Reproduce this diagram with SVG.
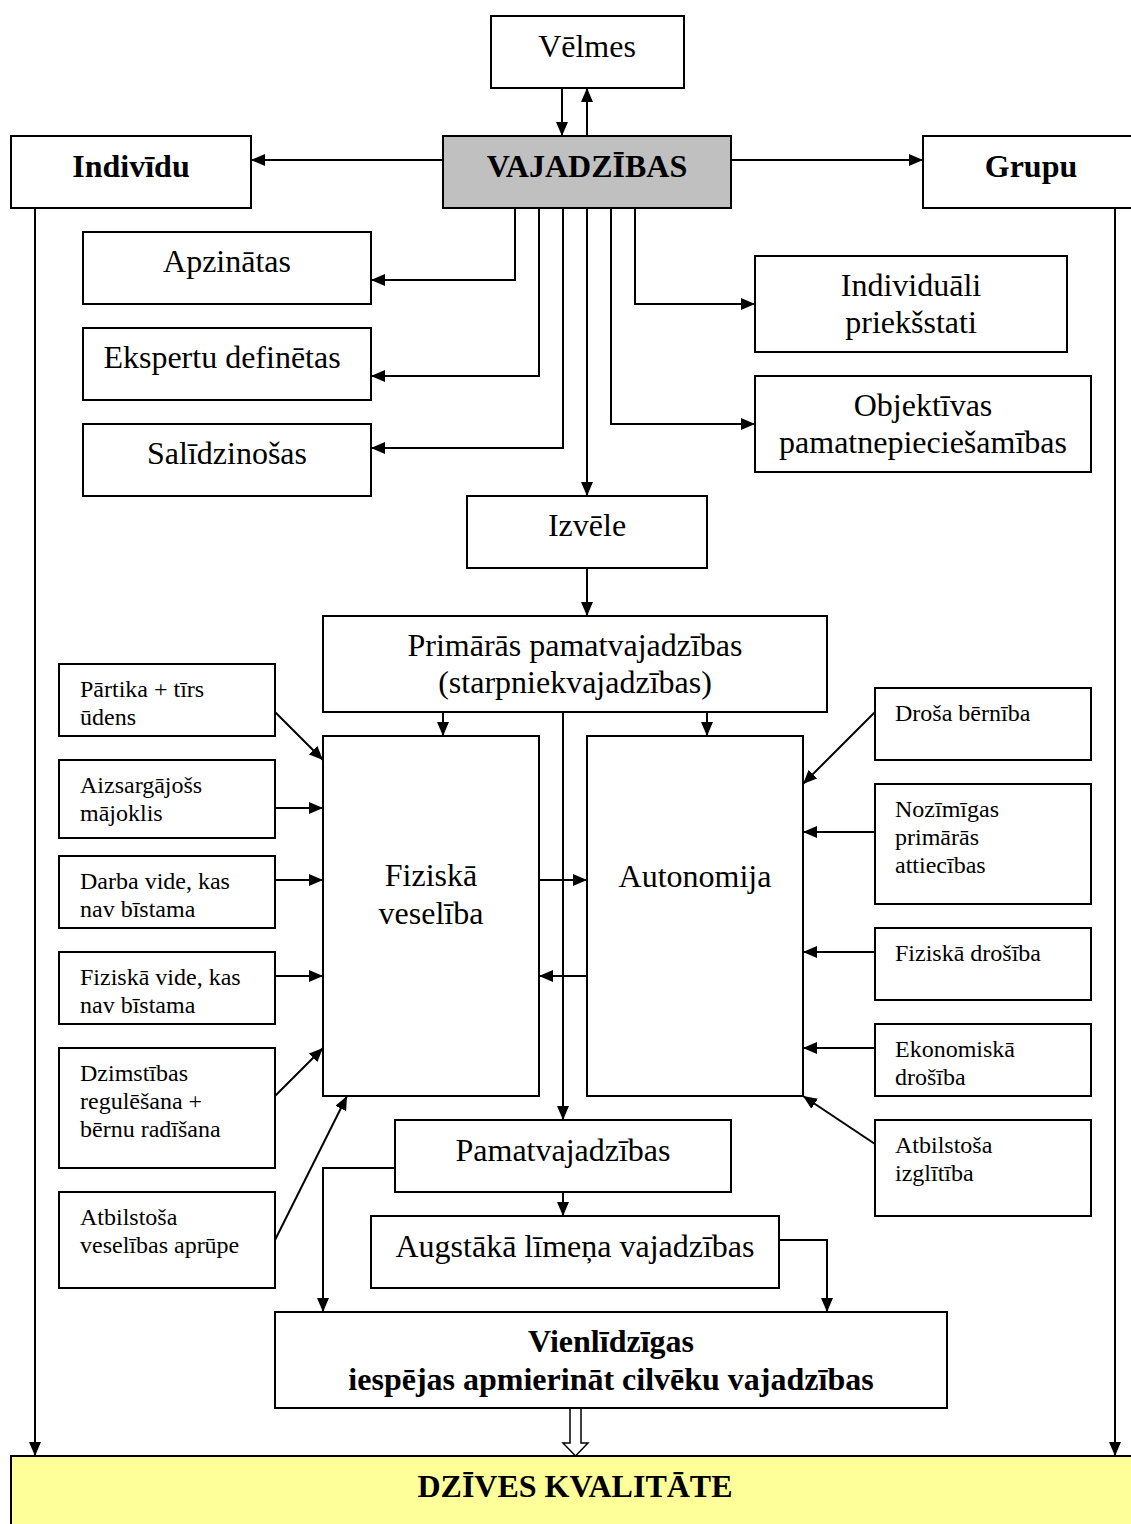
<svg xmlns="http://www.w3.org/2000/svg" width="1131" height="1524" viewBox="0 0 1131 1524">
<defs>
<marker id="ah" markerUnits="userSpaceOnUse" markerWidth="14" markerHeight="12" refX="14" refY="6" orient="auto"><path d="M0,0 L14,6 L0,12 z" fill="#000"/></marker>
<style>
.b{fill:#fff;stroke:#000;stroke-width:2}
.t{font-family:"Liberation Serif","Times New Roman",serif;font-size:32px;fill:#000;text-anchor:middle}
.tb{font-family:"Liberation Serif","Times New Roman",serif;font-size:32px;font-weight:bold;fill:#000;text-anchor:middle}
.s{font-family:"Liberation Serif","Times New Roman",serif;font-size:24px;fill:#000}
.c{fill:none;stroke:#000;stroke-width:2;marker-end:url(#ah)}
.l{fill:none;stroke:#000;stroke-width:2}
</style>
</defs>
<rect width="1131" height="1524" fill="#fff"/>
<g id="connectors">
<path class="c" d="M562,88 V136"/>
<path class="c" d="M587,136 V88"/>
<path class="c" d="M443,160 H251"/>
<path class="c" d="M731,160 H923"/>
<path class="c" d="M515,208 V280 H371"/>
<path class="c" d="M539,208 V376 H371"/>
<path class="c" d="M563,208 V448 H371"/>
<path class="c" d="M587,208 V496"/>
<path class="c" d="M611,208 V424 H755"/>
<path class="c" d="M635,208 V304 H755"/>
<path class="c" d="M587,568 V616"/>
<path class="c" d="M443,712 V736"/>
<path class="c" d="M707,712 V736"/>
<path class="c" d="M563,712 V1120"/>
<path class="c" d="M539,880 H587"/>
<path class="c" d="M587,976 H539"/>
<path class="c" d="M275,712 L323,760"/>
<path class="c" d="M275,808 H323"/>
<path class="c" d="M275,880 H323"/>
<path class="c" d="M275,976 H323"/>
<path class="c" d="M275,1096 L323,1048"/>
<path class="c" d="M275,1240 L347,1096"/>
<path class="c" d="M875,712 L803,784"/>
<path class="c" d="M875,832 H803"/>
<path class="c" d="M875,952 H803"/>
<path class="c" d="M875,1048 H803"/>
<path class="c" d="M875,1144 L803,1096"/>
<path class="c" d="M563,1192 V1216"/>
<path class="c" d="M395,1168 H323 V1312"/>
<path class="c" d="M779,1240 H827 V1312"/>
<path class="c" d="M35,208 V1456"/>
<path class="c" d="M1115,208 V1456"/>
<polygon points="570,1408 581,1408 581,1443 588,1443 575.5,1456 563,1443 570,1443" fill="#fff" stroke="#000" stroke-width="1.5"/>
</g>
<g id="velmes"><rect class="b" x="491" y="16" width="193" height="72"/><text class="t" x="587" y="57">Vēlmes</text></g>
<g id="vajadzibas"><rect x="443" y="136" width="288" height="72" fill="#c0c0c0" stroke="#000" stroke-width="2"/><text class="tb" x="587" y="177">VAJADZĪBAS</text></g>
<g id="individu"><rect class="b" x="11" y="136" width="240" height="72"/><text class="tb" x="131" y="177">Indivīdu</text></g>
<g id="grupu"><rect class="b" x="923" y="136" width="220" height="72"/><text class="tb" x="1031" y="177">Grupu</text></g>
<g id="apzinatas"><rect class="b" x="83" y="232" width="288" height="72"/><text class="t" x="227" y="272">Apzinātas</text></g>
<g id="ekspertu"><rect class="b" x="83" y="328" width="288" height="72"/><text class="t" x="222" y="368">Ekspertu definētas</text></g>
<g id="salidzinosas"><rect class="b" x="83" y="424" width="288" height="72"/><text class="t" x="227" y="464">Salīdzinošas</text></g>
<g id="individuali"><rect class="b" x="755" y="256" width="312" height="96"/><text class="t" x="911" y="296">Individuāli</text><text class="t" x="911" y="333">priekšstati</text></g>
<g id="objektivas"><rect class="b" x="755" y="376" width="336" height="96"/><text class="t" x="923" y="416">Objektīvas</text><text class="t" x="923" y="453">pamatnepieciešamības</text></g>
<g id="izvele"><rect class="b" x="467" y="496" width="240" height="72"/><text class="t" x="587" y="536">Izvēle</text></g>
<g id="primaras"><rect class="b" x="323" y="616" width="504" height="96"/><text class="t" x="575" y="656">Primārās pamatvajadzības</text><text class="t" x="575" y="693">(starpniekvajadzības)</text></g>
<g id="fiziska-veseliba"><rect class="b" x="323" y="736" width="216" height="360"/><text class="t" x="431" y="886">Fiziskā</text><text class="t" x="431" y="924">veselība</text></g>
<g id="autonomija"><rect class="b" x="587" y="736" width="216" height="360"/><text class="t" x="695" y="887">Autonomija</text></g>
<g id="partika"><rect class="b" x="59" y="664" width="216" height="72"/><text class="s" x="80" y="697">Pārtika + tīrs</text><text class="s" x="80" y="725">ūdens</text></g>
<g id="majoklis"><rect class="b" x="59" y="760" width="216" height="78"/><text class="s" x="80" y="793">Aizsargājošs</text><text class="s" x="80" y="821">mājoklis</text></g>
<g id="darba-vide"><rect class="b" x="59" y="856" width="216" height="72"/><text class="s" x="80" y="889">Darba vide, kas</text><text class="s" x="80" y="917">nav bīstama</text></g>
<g id="fiziska-vide"><rect class="b" x="59" y="952" width="216" height="72"/><text class="s" x="80" y="985">Fiziskā vide, kas</text><text class="s" x="80" y="1013">nav bīstama</text></g>
<g id="dzimstibas"><rect class="b" x="59" y="1048" width="216" height="120"/><text class="s" x="80" y="1081">Dzimstības</text><text class="s" x="80" y="1109">regulēšana +</text><text class="s" x="80" y="1137">bērnu radīšana</text></g>
<g id="veselibas-aprupe"><rect class="b" x="59" y="1192" width="216" height="96"/><text class="s" x="80" y="1225">Atbilstoša</text><text class="s" x="80" y="1253">veselības aprūpe</text></g>
<g id="drosa-berniba"><rect class="b" x="875" y="688" width="216" height="72"/><text class="s" x="895" y="721">Droša bērnība</text></g>
<g id="nozimigas"><rect class="b" x="875" y="784" width="216" height="120"/><text class="s" x="895" y="817">Nozīmīgas</text><text class="s" x="895" y="845">primārās</text><text class="s" x="895" y="873">attiecības</text></g>
<g id="fiziska-drosiba"><rect class="b" x="875" y="928" width="216" height="72"/><text class="s" x="895" y="961">Fiziskā drošība</text></g>
<g id="ekonomiska"><rect class="b" x="875" y="1024" width="216" height="72"/><text class="s" x="895" y="1057">Ekonomiskā</text><text class="s" x="895" y="1085">drošība</text></g>
<g id="izglitiba"><rect class="b" x="875" y="1120" width="216" height="96"/><text class="s" x="895" y="1153">Atbilstoša</text><text class="s" x="895" y="1181">izglītība</text></g>
<g id="pamatvajadzibas"><rect class="b" x="395" y="1120" width="336" height="72"/><text class="t" x="563" y="1161">Pamatvajadzības</text></g>
<g id="augstaka"><rect class="b" x="371" y="1216" width="408" height="72"/><text class="t" x="575" y="1257">Augstākā līmeņa vajadzības</text></g>
<g id="vienlidzigas"><rect class="b" x="275" y="1312" width="672" height="96"/><text class="tb" x="611" y="1352">Vienlīdzīgas</text><text class="tb" x="611" y="1390">iespējas apmierināt cilvēku vajadzības</text></g>
<g id="dzives-kvalitate"><rect x="11" y="1456" width="1132" height="80" fill="#ffff99" stroke="#000" stroke-width="2"/><text class="tb" x="575" y="1497">DZĪVES KVALITĀTE</text></g>
</svg>
